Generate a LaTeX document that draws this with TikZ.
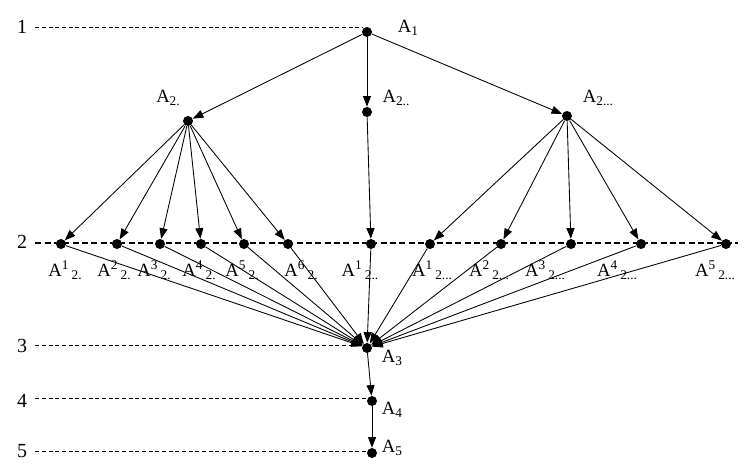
\documentclass[tikz,border=0pt]{standalone}
\usepackage{fontspec}
\setmainfont{Liberation Serif}
\usetikzlibrary{arrows.meta}
\newcommand{\Asub}[1]{A\raisebox{-0.35ex}{\fontsize{10}{11}\selectfont #1}}
\newcommand{\Asup}[2]{A\raisebox{0.8ex}{\fontsize{10}{11}\selectfont #1}\,\raisebox{-0.35ex}{\fontsize{10}{11}\selectfont #2}}
\begin{document}
\begin{tikzpicture}[x=0.75pt,y=-0.75pt,
  dot/.style={circle,fill=black,inner sep=0pt,minimum size=7.5pt},
  lbl/.style={font=\fontsize{14}{16}\selectfont, inner sep=0pt},
  lvl/.style={font=\fontsize{15}{17}\selectfont, inner sep=0pt},
  arr/.style={-{Triangle[length=8pt,width=6pt]}, line width=0.65pt},
  guide/.style={dash pattern=on 3pt off 2pt, line width=0.5pt},
  guideb/.style={dash pattern=on 4.5pt off 2.5pt, line width=0.9pt}]
\useasboundingbox (0,0) rectangle (753,475);
% level numbers
\node[lvl] (l1) at (22,27) {1};
\node[lvl] (l2) at (22,242) {2};
\node[lvl] (l3) at (22,346) {3};
\node[lvl] (l4) at (22,401) {4};
\node[lvl] (l5) at (22,451) {5};
% main dots
\node[dot] (A1) at (367,32) {};
\node[dot] (A2a) at (188,121) {};
\node[dot] (A2b) at (367,112) {};
\node[dot] (A2c) at (567,116) {};
\node[dot] (A3) at (367,348) {};
\node[dot] (A4) at (372,401) {};
\node[dot] (A5) at (372,453) {};
% level 2 dots
\node[dot] (b1) at (61,244) {};
\node[dot] (b2) at (117,244) {};
\node[dot] (b3) at (160,244) {};
\node[dot] (b4) at (201,244) {};
\node[dot] (b5) at (244,244) {};
\node[dot] (b6) at (288,244) {};
\node[dot] (c1) at (371,244) {};
\node[dot] (d1) at (430,244) {};
\node[dot] (d2) at (501,244) {};
\node[dot] (d3) at (571,244) {};
\node[dot] (d4) at (641,244) {};
\node[dot] (d5) at (726,244) {};
% guide lines
\coordinate (g1) at (362,27);
\coordinate (g2) at (738,243);
\coordinate (g3) at (358,345);
\coordinate (g4) at (366,398);
\coordinate (g5) at (366,451);
\draw[guide] (l1.east) ++(8,0) -- (g1);
\draw[guideb] (l2.east) ++(8,1) -- (g2);
\draw[guide] (l3.east) ++(8,-1) -- (g3);
\draw[guide] (l4.east) ++(8,-3) -- (g4);
\draw[guide] (l5.east) ++(8,0) -- (g5);
% labels
\node[lbl] (tA1) at (408,28) {\Asub{1}};
\node[lbl] (tA2a) at (168,98) {\Asub{2.}};
\node[lbl] (tA2b) at (396,98) {\Asub{2..}};
\node[lbl] (tA2c) at (598,98) {\Asub{2...}};
\node[lbl] (tA3) at (392,358) {\Asub{3}};
\node[lbl] (tA4) at (392,410) {\Asub{4}};
\node[lbl] (tA5) at (392,448) {\Asub{5}};
\node[lbl] at (65,270) {\Asup{1}{2.}};
\node[lbl] at (114,270) {\Asup{2}{2.}};
\node[lbl] at (154,270) {\Asup{3}{2.}};
\node[lbl] at (199,270) {\Asup{4}{2.}};
\node[lbl] at (242,270) {\Asup{5}{2.}};
\node[lbl] at (301,270) {\Asup{6}{2.}};
\node[lbl] at (360,270) {\Asup{1}{2..}};
\node[lbl] at (432,270) {\Asup{1}{2...}};
\node[lbl] at (489,270) {\Asup{2}{2...}};
\node[lbl] at (545,270) {\Asup{3}{2...}};
\node[lbl] at (617,270) {\Asup{4}{2...}};
\node[lbl] at (715,270) {\Asup{5}{2...}};
% connectors
\draw[arr] (A1) -- (A2a);
\draw[arr] (A1) -- (A2b);
\draw[arr] (A1) -- (A2c);
\foreach \n in {b1,b2,b3,b4,b5,b6} \draw[arr] (A2a) -- (\n);
\draw[arr] (A2b) -- (c1);
\foreach \n in {d1,d2,d3,d4,d5} \draw[arr] (A2c) -- (\n);
\foreach \n in {b1,b2,b3,b4,b5,b6,c1,d1,d2,d3,d4,d5} \draw[arr] (\n) -- (A3);
\draw[arr] (A3) -- (A4);
\draw[arr] (A4) -- (A5);
\end{tikzpicture}
\end{document}
